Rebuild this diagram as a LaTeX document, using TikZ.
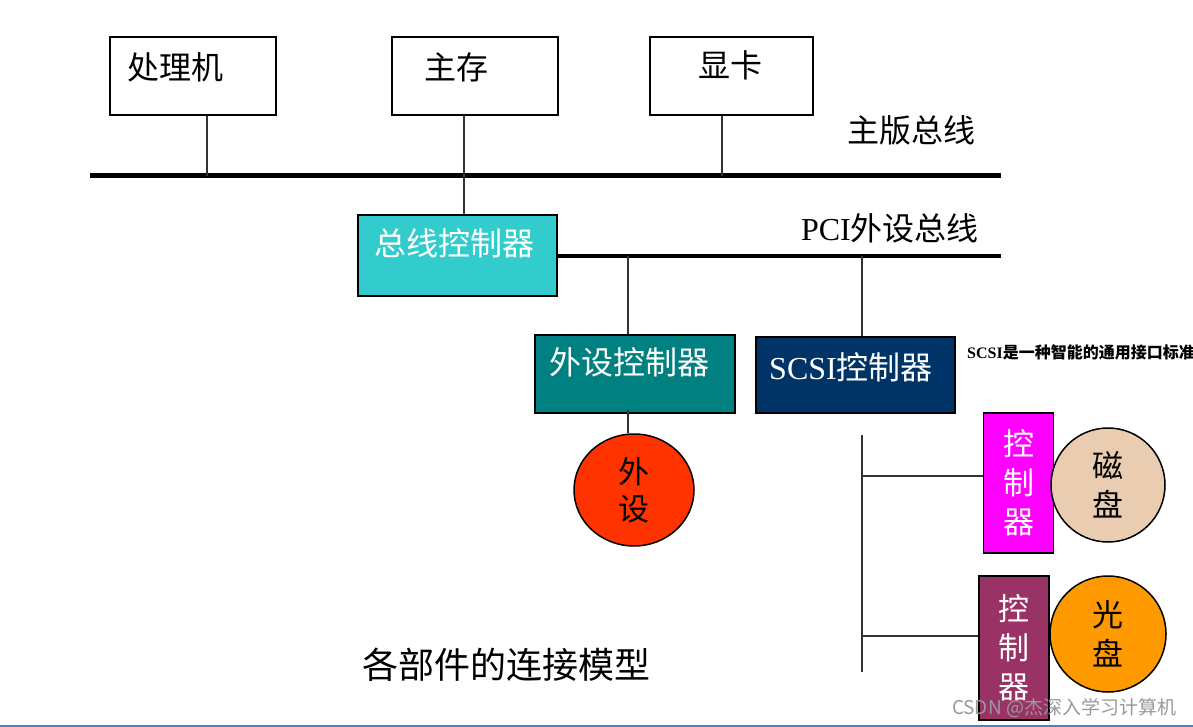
\documentclass[tikz,border=0pt]{standalone}
\usepackage{fontspec}
\setmainfont{Liberation Serif}
\newfontfamily\cjk{Noto Sans CJK SC}
\newfontfamily\lat{Liberation Serif}
\usetikzlibrary{shapes.geometric}

\definecolor{busctl}{HTML}{33CCCC}
\definecolor{perctl}{HTML}{008080}
\definecolor{scsictl}{HTML}{003366}
\definecolor{diskctl}{HTML}{FF00FF}
\definecolor{cdctl}{HTML}{993366}
\definecolor{devred}{HTML}{FF3300}
\definecolor{disktan}{HTML}{EACDB0}
\definecolor{cdorange}{HTML}{FF9900}

\tikzset{
  bigtxt/.style={font=\cjk\fontsize{32}{39}\selectfont, inner sep=0pt, align=center},
  plainbox/.style={draw, line width=2.2pt, fill=white, minimum width=166pt, minimum height=78pt, inner sep=0pt},
  ctrlbox/.style={draw, line width=2.2pt, minimum width=200pt, minimum height=78pt, inner sep=0pt},
  tallbox/.style={draw, line width=1.5pt, minimum width=70pt, inner sep=0pt, text=white, font=\cjk\fontsize{31}{39}\selectfont, align=center},
  disc/.style={circle, draw, line width=1.5pt, inner sep=0pt, font=\cjk\fontsize{31}{39}\selectfont, align=center},
  link/.style={line width=1.2pt, draw=black!80},
}

\begin{document}
\begin{tikzpicture}[x=1pt, y=-1pt]
			\useasboundingbox (0,0) rectangle (1193,727);

			% Nodes
			\node[plainbox] (cpu) at (193,76) {};
			\node[plainbox] (mem) at (475,76) {};
			\node[plainbox, minimum width=163pt] (gpu) at (731.5,76) {};
			\node[bigtxt] (cpuTxt) at (175,67) {处理机};
			\node[bigtxt] (memTxt) at (456,67) {主存};
			\node[bigtxt] (gpuTxt) at (730,65) {显卡};

			\coordinate (mbW) at (90,176);
			\coordinate (mbE) at (1001,176);
			\coordinate (pciE) at (1001,256);
			\node[bigtxt] (mbTxt) at (911,130) {主版总线};
			\node[bigtxt] (pciTxt) at (890,228) {\lat PCI\cjk 外设总线};

			\node[ctrlbox, fill=busctl, minimum width=199pt, minimum height=81pt] (busctrl) at (457.5,255.5) {};
			\node[bigtxt, text=white] (busctrlTxt) at (454,243) {总线控制器};
			\node[ctrlbox, fill=perctl] (perctrl) at (635,374) {};
			\node[bigtxt, text=white] (perctrlTxt) at (629,362) {外设控制器};
			\node[ctrlbox, fill=scsictl, minimum width=199pt, minimum height=76pt] (scsictrl) at (855.5,375) {};
			\node[bigtxt, text=white] (scsictrlTxt) at (851,367) {\lat SCSI\cjk 控制器};
			\node[anchor=west, inner sep=0pt, font=\lat\bfseries\fontsize{16}{18}\selectfont] (scsiNote) at (967,352) {SCSI\cjk\bfseries 是一种智能的通用接口标准};

			\node[ellipse, draw, line width=1.5pt, fill=devred, minimum width=120pt, minimum height=112pt, inner sep=0pt, font=\cjk\fontsize{31}{37}\selectfont, align=center] (dev) at (634,490) {外\\设};

			\node[tallbox, fill=diskctl, minimum height=140pt] (diskctrl) at (1018.5,483) {控\\制\\器};
			\node[disc, fill=disktan, minimum size=114pt] (disk) at (1108,485) {磁\\盘};
			\node[tallbox, fill=cdctl, minimum height=144pt] (cdctrl) at (1014,648) {控\\制\\器};
			\node[disc, fill=cdorange, minimum size=116pt] (cd) at (1108,634) {光\\盘};

			\coordinate (tapA) at (628,256);
			\coordinate (tapB) at (862,256);
			\coordinate (scsiTop) at (862,435);
			\coordinate (scsiBot) at (862,672);

			\node[font=\cjk\fontsize{36}{40}\selectfont, inner sep=0pt] (caption) at (506,665) {各部件的连接模型};
			\node[font=\cjk\fontsize{19}{21}\selectfont, text=black!40, inner sep=0pt] (mark) at (1064,708) {CSDN @杰深入学习计算机};

			% Edges
			\draw[line width=5pt] (mbW) -- (mbE);
			\draw[line width=3.5pt] (busctrl.east |- pciE) -- (pciE);
			\draw[link] ([xshift=14pt]cpu.south) -- ([xshift=14pt]cpu.south |- mbW);
			\draw[link] ([xshift=-11pt]mem.south) -- ([xshift=-11pt]mem.south |- busctrl.north);
			\draw[link] ([xshift=-9.5pt]gpu.south) -- ([xshift=-9.5pt]gpu.south |- mbW);
			\draw[link] (tapA) -- (tapA |- perctrl.north);
			\draw[link] (tapB) -- (tapB |- scsictrl.north);
			\draw[link] ([yshift=4pt]tapA |- perctrl.south) -- (tapA |- dev.north);
			\draw[link] (scsiTop) -- (scsiBot);
			\draw[link] (scsiTop |- 0,476) -- (diskctrl.west |- 0,476);
			\draw[link] (scsiTop |- 0,636) -- (cdctrl.west |- 0,636);

			\draw[line width=3pt, draw={rgb,255:red,70;green,130;blue,190}] (0,726) -- (1193,726);
		\end{tikzpicture}
\end{document}
